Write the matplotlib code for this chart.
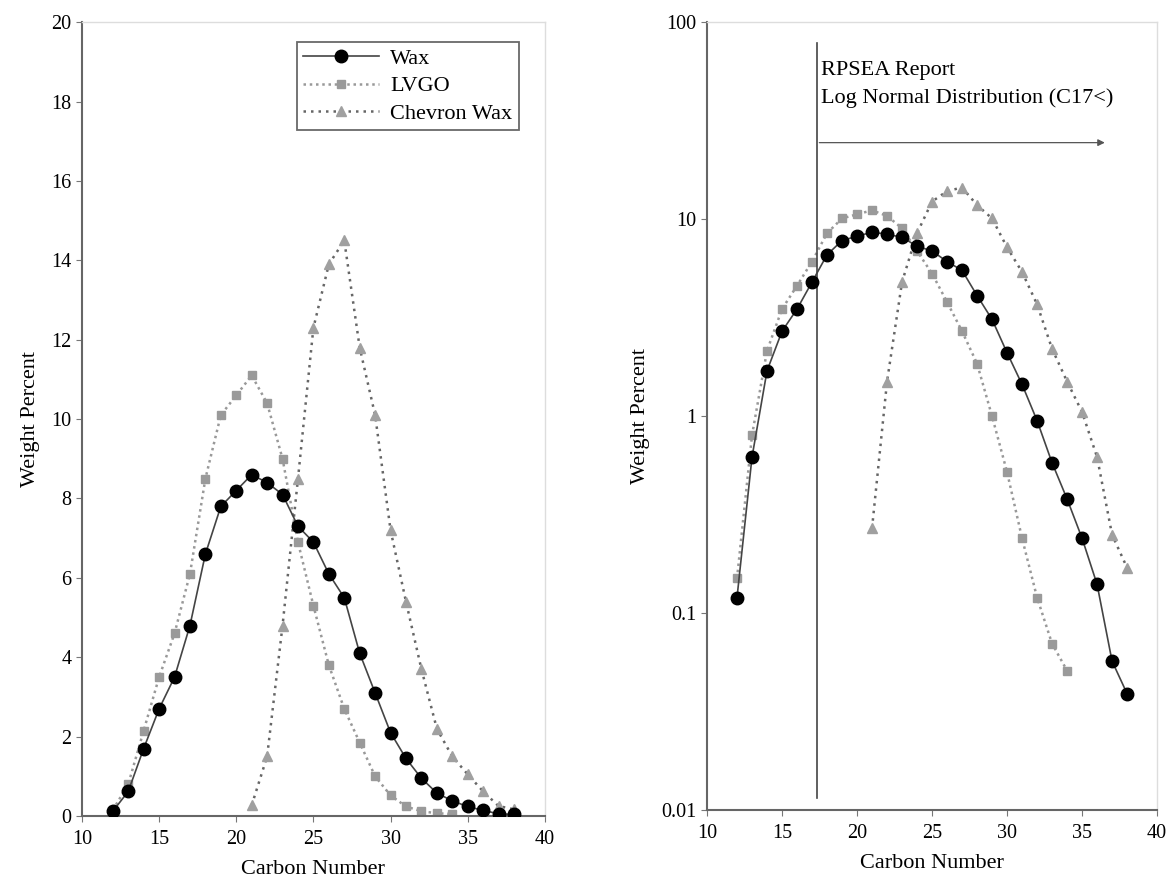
import matplotlib
matplotlib.use('Agg')
import matplotlib.pyplot as plt

plt.rcParams['font.family'] = ['Liberation Serif', 'DejaVu Serif']

# carbon numbers and weight percents
wax_c = list(range(12, 39))
wax_w = [0.12, 0.62, 1.7, 2.7, 3.5, 4.8, 6.6, 7.8, 8.2, 8.6, 8.4, 8.1, 7.3, 6.9,
         6.1, 5.5, 4.1, 3.1, 2.1, 1.45, 0.95, 0.58, 0.38, 0.24, 0.14, 0.057, 0.039]
lvgo_c = list(range(12, 35))
lvgo_w = [0.15, 0.8, 2.15, 3.5, 4.6, 6.1, 8.5, 10.1, 10.6, 11.1, 10.4, 9.0, 6.9,
          5.3, 3.8, 2.7, 1.85, 1.0, 0.52, 0.24, 0.12, 0.07, 0.051]
chev_c = list(range(21, 39))
chev_w = [0.27, 1.5, 4.8, 8.5, 12.3, 13.9, 14.5, 11.8, 10.1, 7.2, 5.4, 3.7, 2.2,
          1.5, 1.05, 0.62, 0.25, 0.17]

cutoff = 17.3
arrow_end = 36.7
arrow_y = 24.5

fig = plt.figure(figsize=(11.69, 8.84), dpi=100)
ax1 = fig.add_axes([0.0701, 0.0769, 0.396, 0.898])
ax2 = fig.add_axes([0.6048, 0.0837, 0.385, 0.891])

def draw(ax):
    ax.plot(wax_c, wax_w, color='#444444', lw=1.2, marker='o', ms=9,
            mfc='black', mec='black', label='Wax', zorder=3)
    ax.plot(lvgo_c, lvgo_w, color='#999999', lw=1.8, ls=(0, (1, 1.5)), marker='s',
            ms=6, mfc='#9a9a9a', mec='#9a9a9a', label='LVGO', zorder=2)
    ax.plot(chev_c, chev_w, color='#666666', lw=1.8, ls=(0, (1, 2)), marker='^',
            ms=7, mfc='#a0a0a0', mec='#a0a0a0', label='Chevron Wax', zorder=2)
    ax.set_xlim(10, 40)
    ax.set_xticks([10, 15, 20, 25, 30, 35, 40])
    ax.set_xlabel('Carbon Number', fontsize=16, labelpad=8)
    ax.set_ylabel('Weight Percent', fontsize=16, labelpad=8)
    ax.tick_params(labelsize=14.5, color='#777777', direction='out', length=4)
    ax.tick_params(axis='x', pad=6)
    for s in ['left', 'bottom']:
        ax.spines[s].set_color('#666666')
        ax.spines[s].set_linewidth(1.5)
    for s in ['top', 'right']:
        ax.spines[s].set_color('#dddddd')
        ax.spines[s].set_linewidth(1)

draw(ax1)
ax1.set_ylim(0, 20)
ax1.set_yticks(range(0, 21, 2))
leg = ax1.legend(loc='upper left', bbox_to_anchor=(0.464, 0.975), fontsize=16,
                 frameon=True, fancybox=False, edgecolor='#444444',
                 handlelength=3.4, borderpad=0.3, labelspacing=0.3,
                 handletextpad=0.5, borderaxespad=0)
leg.get_frame().set_linewidth(1.3)

draw(ax2)
ax2.set_yscale('log')
ax2.set_ylim(0.01, 100)
ax2.set_yticks([0.01, 0.1, 1, 10, 100])
ax2.set_yticklabels(['0.01', '0.1', '1', '10', '100'])
ax2.minorticks_off()
ax2.plot([cutoff, cutoff], [0.0115, 79], color='#444444', lw=1.2)
ax2.annotate('', xy=(arrow_end, arrow_y), xytext=(cutoff, arrow_y),
             arrowprops=dict(arrowstyle='-|>', color='#555555', lw=0.9,
                             mutation_scale=10))
ax2.text(cutoff + 0.3, 57, 'RPSEA Report', fontsize=16, va='center')
ax2.text(cutoff + 0.3, 41, 'Log Normal Distribution (C17<)', fontsize=16,
         va='center')

fig.savefig('out.png', dpi=100)
